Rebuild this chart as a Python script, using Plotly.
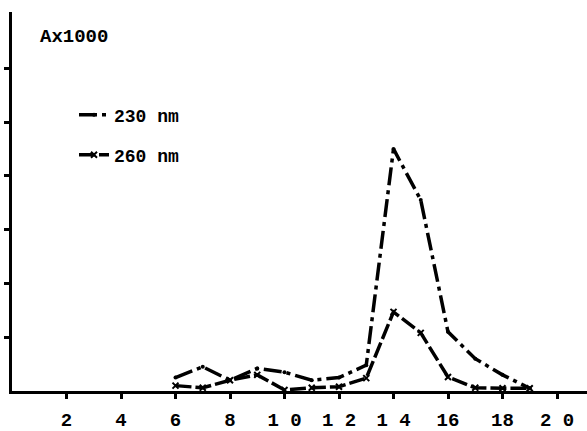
import plotly.graph_objects as go

fractions = [6, 7, 8, 9, 10, 11, 12, 13, 14, 15, 16, 17, 18, 19]
a230 = [0.25, 0.45, 0.20, 0.42, 0.35, 0.20, 0.25, 0.48, 4.50, 3.55, 1.10, 0.60, 0.30, 0.05]
a260 = [0.10, 0.06, 0.20, 0.30, 0.02, 0.06, 0.08, 0.24, 1.47, 1.08, 0.26, 0.06, 0.05, 0.05]
xtick_vals = [2, 4, 6, 8, 10, 12, 14, 16, 18, 20]
xtick_text = ["2", "4", "6", "8", "1 0", "1 2", "1 4", "16", "18", "2 0"]
ytick_vals = [1, 2, 3, 4, 5, 6]
y_title = "Ax1000"

FONT = "Liberation Mono"

fig = go.Figure()
fig.add_trace(go.Scatter(
    x=fractions, y=a230, mode="lines+markers", name="230 nm",
    line=dict(color="black", width=3.5, dash="18px,5px,4px,5px"),
    marker=dict(symbol="circle", size=4, color="black"),
    legend="legend",
))
fig.add_trace(go.Scatter(
    x=fractions, y=a260, mode="lines+markers", name="260 nm",
    line=dict(color="black", width=3.5, dash="16px,4px"),
    marker=dict(symbol="x-thin", size=6, color="black", line=dict(width=2, color="black")),
    legend="legend2",
))

W, H = 587, 431
ml, mr, mt, mb = 12, 0, 12, 40
pw = W - ml - mr
ph = H - mt - mb

def px_x(p):
    return (p - ml) / pw

def px_y(p):
    return (H - mb - p) / ph

fig.add_annotation(
    text=y_title, xref="paper", yref="paper", x=px_x(38), y=px_y(37),
    xanchor="left", yanchor="middle", showarrow=False,
    font=dict(family=FONT, size=19, color="black", weight="bold"),
)

legend_font = dict(family=FONT, size=18, color="black", weight="bold")
fig.update_layout(
    width=W, height=H,
    margin=dict(l=ml, r=mr, t=mt, b=mb),
    paper_bgcolor="white", plot_bgcolor="white",
    showlegend=True,
    legend=dict(x=px_x(74), y=px_y(115), xanchor="left", yanchor="middle",
                bgcolor="rgba(0,0,0,0)", itemwidth=30, font=legend_font),
    legend2=dict(x=px_x(74), y=px_y(155), xanchor="left", yanchor="middle",
                 bgcolor="rgba(0,0,0,0)", itemwidth=30, font=legend_font),
    xaxis=dict(range=[0, pw / 27.25], showgrid=False, zeroline=False,
               showline=True, linecolor="black", linewidth=3,
               ticks="outside", ticklen=5, tickwidth=3, tickcolor="black",
               tickvals=xtick_vals, ticktext=xtick_text, ticklabelstandoff=4,
               tickfont=dict(family=FONT, size=19, color="black", weight="bold")),
    yaxis=dict(range=[0, ph / 53.8], showgrid=False, zeroline=False,
               showline=True, linecolor="black", linewidth=3,
               ticks="outside", ticklen=5, tickwidth=3, tickcolor="black",
               tickvals=ytick_vals, showticklabels=False),
)

fig.write_html("out.html")
